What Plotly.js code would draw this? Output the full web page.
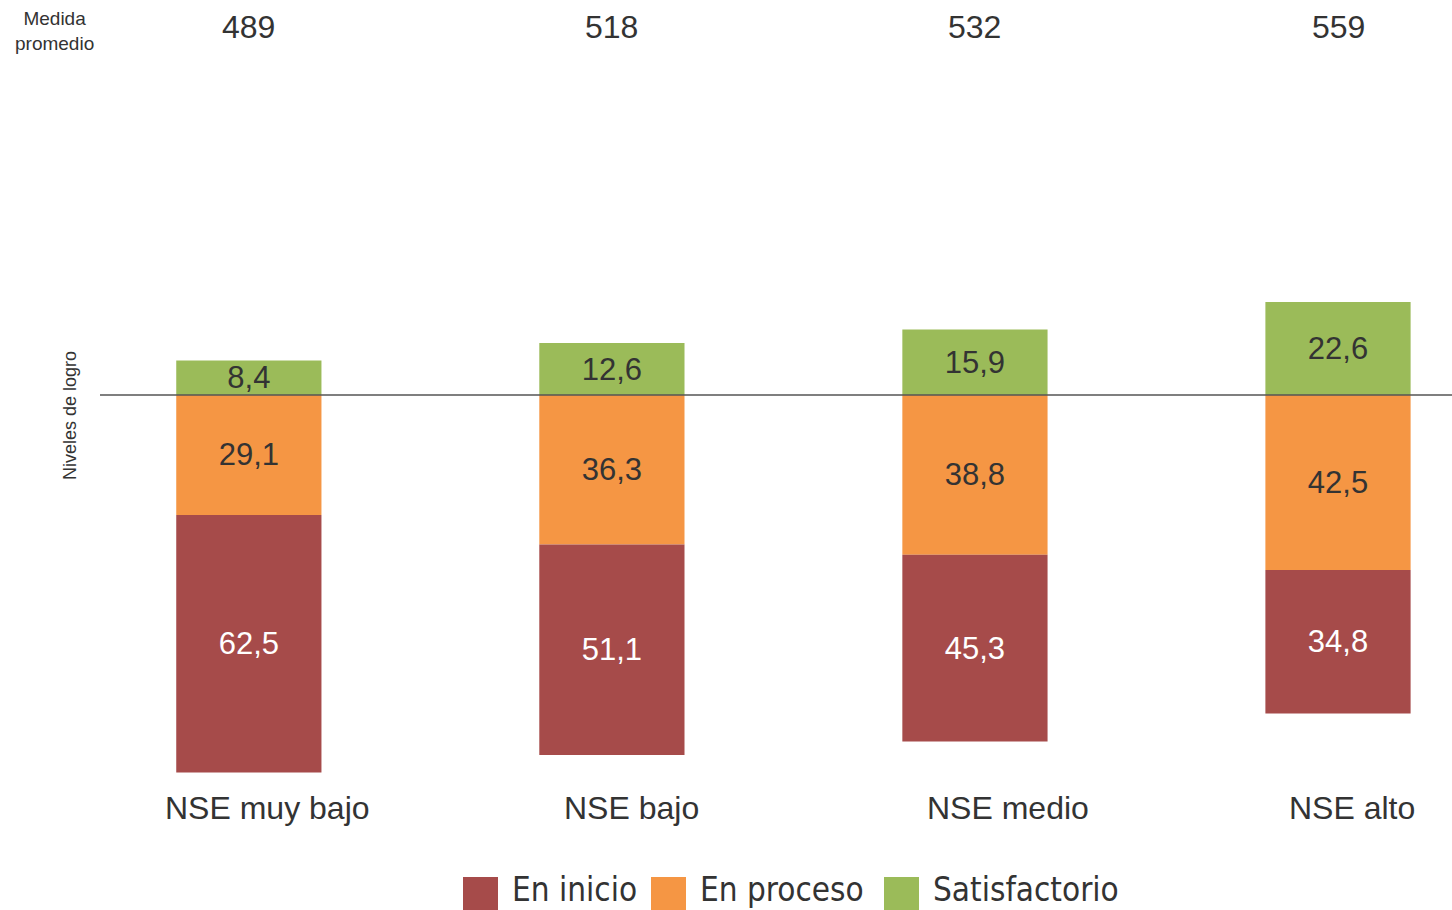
<!DOCTYPE html>
<html>
<head>
<meta charset="utf-8">
<script src="https://cdn.plot.ly/plotly-3.0.1.min.js"></script>
<style>
  html, body { margin: 0; padding: 0; background: #fff; }
  #chart { width: 1452px; height: 910px; }
</style>
</head>
<body>
<div id="chart"></div>
<script>
// ---- Data ----
const categories = ['NSE muy bajo', 'NSE bajo', 'NSE medio', 'NSE alto'];
const enInicio = [62.5, 51.1, 45.3, 34.8];
const enProceso = [29.1, 36.3, 38.8, 42.5];
const satisfactorio = [8.4, 12.6, 15.9, 22.6];
const medidaPromedio = [489, 518, 532, 559];
const seriesNames = ['En inicio', 'En proceso', 'Satisfactorio'];
const topLabel = 'Medida<br>promedio';
const axisLabel = 'Niveles de logro';

// ---- Style ----
const colors = { inicio: '#A64B4A', proceso: '#F59644', satis: '#9BBB59' };
const FONT = 'Liberation Sans, Arial, Helvetica, sans-serif';
const NARROW = 'Liberation Sans Narrow, Arial Narrow, DejaVu Sans Condensed, sans-serif';
const textDark = '#333333';

const W = 1452, H = 910;
const M = { l: 100, r: 0, t: 60, b: 110 };
const plotW = W - M.l - M.r, plotH = H - M.t - M.b;
const px2x = px => (px - M.l) / plotW;
const px2y = py => (H - M.b - py) / plotH;

const fmt = v => v.toFixed(1).replace('.', ',');
const neg = arr => arr.map(v => -v);

const common = {
  type: 'bar', x: categories, width: 0.4,
  textposition: 'inside', insidetextanchor: 'middle', textangle: 0,
  constraintext: 'none', hoverinfo: 'skip', showlegend: false,
  marker: { line: { width: 0 } }
};

const traces = [
  Object.assign({}, common, {
    name: seriesNames[1], y: neg(enProceso), text: enProceso.map(fmt),
    marker: { color: colors.proceso },
    textfont: { family: FONT, size: 31, color: textDark }
  }),
  Object.assign({}, common, {
    name: seriesNames[0], y: neg(enInicio), text: enInicio.map(fmt),
    marker: { color: colors.inicio },
    textfont: { family: FONT, size: 31, color: '#ffffff' }
  }),
  Object.assign({}, common, {
    name: seriesNames[2], y: satisfactorio, text: satisfactorio.map(fmt),
    marker: { color: colors.satis },
    textfont: { family: FONT, size: 31, color: textDark }
  })
];

const annotations = [];
// top row values
categories.forEach((c, i) => {
  annotations.push({
    x: c, xref: 'x', y: 1, yref: 'paper', yshift: M.t - 27, yanchor: 'middle',
    text: String(medidaPromedio[i]), showarrow: false,
    font: { family: FONT, size: 32, color: textDark }
  });
});
// category labels
const labelShift = [19, 20, 33, 14];
categories.forEach((c, i) => {
  annotations.push({
    x: c, xref: 'x', xshift: labelShift[i], y: px2y(808), yref: 'paper', yanchor: 'middle',
    text: c, showarrow: false,
    font: { family: FONT, size: 32, color: textDark }
  });
});
annotations.push({
  x: px2x(55), xref: 'paper', y: px2y(31), yref: 'paper', xanchor: 'center', yanchor: 'middle',
  text: topLabel, showarrow: false, align: 'center',
  font: { family: FONT, size: 19, color: textDark }
});
annotations.push({
  x: px2x(70), xref: 'paper', y: px2y(416), yref: 'paper', xanchor: 'center', yanchor: 'middle',
  text: axisLabel, showarrow: false, textangle: -90,
  font: { family: FONT, size: 18, color: textDark }
});

// custom legend
const legendItems = [
  { name: seriesNames[0], color: colors.inicio, sq: 463, tx: 510 },
  { name: seriesNames[1], color: colors.proceso, sq: 651, tx: 698 },
  { name: seriesNames[2], color: colors.satis, sq: 884, tx: 931 }
];
const shapes = [{
  type: 'line', xref: 'paper', x0: 0, x1: 1, yref: 'y', y0: 0, y1: 0,
  line: { color: '#555555', width: 1.5 }, layer: 'above'
}];
legendItems.forEach(it => {
  shapes.push({
    type: 'rect', xref: 'paper', yref: 'paper',
    x0: px2x(it.sq), x1: px2x(it.sq + 35), y0: px2y(912), y1: px2y(877),
    fillcolor: it.color, line: { width: 0 }
  });
  annotations.push({
    x: px2x(it.tx), xref: 'paper', y: px2y(889), yref: 'paper',
    xanchor: 'left', yanchor: 'middle', text: it.name, showarrow: false,
    font: { family: NARROW, size: 33, color: textDark }
  });
});

const PXU = 4.12;
const yTop = (395 - M.t) / PXU;
const yBot = -((H - M.b) - 395) / PXU;

const layout = {
  width: W, height: H, margin: M,
  paper_bgcolor: '#ffffff', plot_bgcolor: '#ffffff',
  barmode: 'relative', bargap: 0.6,
  showlegend: false,
  xaxis: { type: 'category', range: [-0.41, 3.314], showgrid: false, zeroline: false,
           showticklabels: false, showline: false, ticks: '' },
  yaxis: { range: [yBot, yTop], showgrid: false, zeroline: false,
           showticklabels: false, showline: false, ticks: '' },
  annotations: annotations, shapes: shapes,
  font: { family: FONT, color: textDark }
};

Plotly.newPlot('chart', traces, layout, { displayModeBar: false, staticPlot: true });
</script>
</body>
</html>
